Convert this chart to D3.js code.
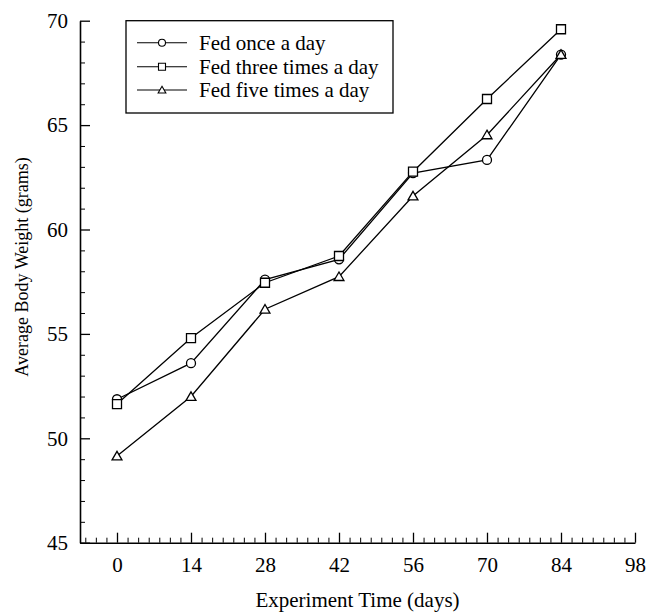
<!DOCTYPE html>
<html>
<head>
<meta charset="utf-8">
<script src="https://cdn.jsdelivr.net/npm/d3@7"></script>
<style>
  html, body { margin: 0; padding: 0; background: #fff; }
  svg { display: block; }
  text { font-family: "Liberation Serif", "Times New Roman", serif; fill: #000; }
</style>
</head>
<body>
<svg id="chart" width="646" height="615"></svg>
<script>
// Average body weight (g) sampled every 14 days under three feeding schedules
const days = [0, 14, 28, 42, 56, 70, 84];
const fedOnce = [51.87, 53.6, 57.6, 58.57, 62.7, 63.33, 68.38];
const fedThree = [51.64, 54.8, 57.45, 58.73, 62.77, 66.25, 69.59];
const fedFive = [49.15, 52.0, 56.18, 57.74, 61.6, 64.53, 68.38];

const seriesNames = ["Fed once a day", "Fed three times a day", "Fed five times a day"];
const seriesSymbols = ["circle", "square", "triangle"];

const xMajorTicks = [0, 14, 28, 42, 56, 70, 84, 98];
const yMajorTicks = [45, 50, 55, 60, 65, 70];

const svg = d3.select("#chart");

const x = d3.scaleLinear().domain([-7, 98]).range([80, 635]);
const y = d3.scaleLinear().domain([45, 70]).range([542.7, 20.7]);

const series = [fedOnce, fedThree, fedFive].map((vals, i) => ({
  name: seriesNames[i],
  symbol: seriesSymbols[i],
  points: days.map((d, j) => ({ day: d, w: vals[j] }))
}));

// Marker shapes
function symbolPath(kind, size) {
  const s = size;
  if (kind === "circle") {
    const r = s / 2;
    return `M${-r},0A${r},${r} 0 1,0 ${r},0A${r},${r} 0 1,0 ${-r},0Z`;
  }
  if (kind === "square") {
    const h = s / 2;
    return `M${-h},${-h}H${h}V${h}H${-h}Z`;
  }
  // triangle, apex up
  const h = s / 2;
  return `M0,${-h * 1.05}L${h * 1.1},${h * 0.85}L${-h * 1.1},${h * 0.85}Z`;
}

// Axes: minor ticks first, then major ticks with labels
const xMinor = d3.range(-6, 99, 2).filter(v => v % 14 !== 0);
const yMinor = d3.range(45, 70.01, 1).filter(v => v % 5 !== 0);

svg.append("g")
  .attr("transform", `translate(0,${y(45)})`)
  .call(d3.axisBottom(x).tickValues(xMinor).tickSize(-5).tickSizeOuter(0).tickFormat(""))
  .call(g => g.select(".domain").remove());

svg.append("g")
  .attr("transform", `translate(0,${y(45)})`)
  .call(d3.axisBottom(x).tickValues(xMajorTicks).tickSize(-10).tickSizeOuter(0).tickPadding(14).tickFormat(d3.format("d")))
  .call(g => g.select(".domain").attr("stroke-width", 1.6))
  .call(g => g.selectAll(".tick line").attr("stroke-width", 1.3))
  .call(g => g.selectAll(".tick text").attr("font-size", 21).attr("font-family", "Liberation Serif, serif").attr("dy", "0.71em"));

svg.append("g")
  .attr("transform", `translate(${x(-7)},0)`)
  .call(d3.axisLeft(y).tickValues(yMinor).tickSize(-5).tickSizeOuter(0).tickFormat(""))
  .call(g => g.select(".domain").remove());

svg.append("g")
  .attr("transform", `translate(${x(-7)},0)`)
  .call(d3.axisLeft(y).tickValues(yMajorTicks).tickSize(-10).tickSizeOuter(0).tickPadding(12).tickFormat(d3.format("d")))
  .call(g => g.select(".domain").attr("stroke-width", 1.6))
  .call(g => g.selectAll(".tick line").attr("stroke-width", 1.3))
  .call(g => g.selectAll(".tick text").attr("font-size", 21).attr("font-family", "Liberation Serif, serif"));

// Axis titles
svg.append("text")
  .attr("x", (x(-7) + x(98)) / 2)
  .attr("y", 600)
  .attr("text-anchor", "middle")
  .attr("dominant-baseline", "central")
  .attr("font-size", 21)
  .text("Experiment Time (days)");

svg.append("text")
  .attr("transform", `translate(22,267) rotate(-90)`)
  .attr("text-anchor", "middle")
  .attr("dominant-baseline", "central")
  .attr("font-size", 18)
  .text("Average Body Weight (grams)");

// Lines and markers
const line = d3.line().x(d => x(d.day)).y(d => y(d.w));

const sg = svg.append("g").selectAll("g.series").data(series).join("g").attr("class", "series");
sg.append("path")
  .attr("d", d => line(d.points))
  .attr("fill", "none")
  .attr("stroke", "#000")
  .attr("stroke-width", 1.3);

sg.each(function(s) {
  d3.select(this).selectAll("path.mark")
    .data(s.points)
    .join("path")
    .attr("class", "mark")
    .attr("transform", d => `translate(${x(d.day)},${y(d.w)})`)
    .attr("d", symbolPath(s.symbol, 9))
    .attr("fill", "#fff")
    .attr("stroke", "#000")
    .attr("stroke-width", 1.3);
});

// Legend
const legend = svg.append("g");
legend.append("rect")
  .attr("x", 126).attr("y", 20.7)
  .attr("width", 267).attr("height", 92.3)
  .attr("fill", "#fff").attr("stroke", "#000").attr("stroke-width", 1.3);

const rowY = [42.7, 66.7, 90];
series.forEach((s, i) => {
  const row = legend.append("g").attr("transform", `translate(0,${rowY[i]})`);
  row.append("line").attr("x1", 137).attr("x2", 187).attr("stroke", "#000").attr("stroke-width", 1.1);
  row.append("path")
    .attr("transform", "translate(162,0)")
    .attr("d", symbolPath(s.symbol, 7))
    .attr("fill", "#fff").attr("stroke", "#000").attr("stroke-width", 1.1);
  row.append("text")
    .attr("x", 199).attr("y", 0)
    .attr("dominant-baseline", "central")
    .attr("font-size", 21)
    .text(s.name);
});
</script>
</body>
</html>
